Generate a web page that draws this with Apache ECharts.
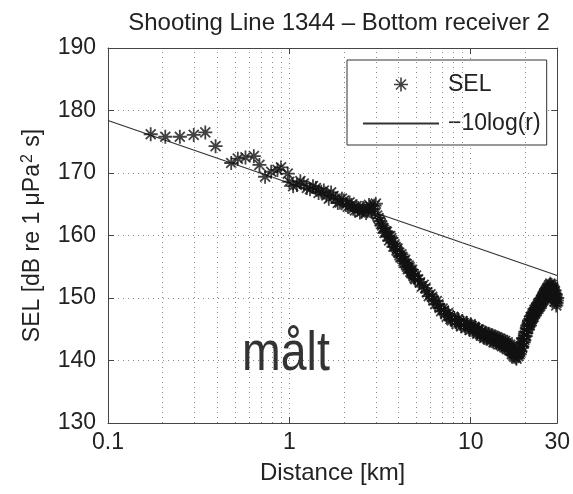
<!DOCTYPE html>
<html>
<head>
<meta charset="utf-8">
<script src="https://cdn.jsdelivr.net/npm/echarts@6/dist/echarts.min.js"></script>
<style>
html,body{margin:0;padding:0;background:#fff;}
#chart{width:573px;height:494px;}
</style>
</head>
<body>
<div id="chart"></div>
<script>
// ---- data ----
// shots, first pass
const distanceKm = [
  0.172,0.207,0.249,0.297,0.344,0.392,0.478,0.52,0.573,0.637,0.684,0.735,0.794,0.86,0.9,0.98,
  1.0,1.1,1.2,1.3,1.4,1.5,1.6,1.7,1.8,1.9,2.0,2.1,2.2,2.3,2.4,2.5,2.6,2.7,2.8,2.9,3.0,3.05,
  3.1,3.2,3.3,3.4,3.5,3.6,3.7,3.8,3.9,4.0,4.1,4.2,4.3,4.4,4.5,4.6,4.7,4.8,4.9,5.0,
  5.25,5.5,5.75,6.0,6.25,6.5,6.75,7.0,7.25,7.5,7.75,8.0,8.25,8.5,8.75,9.0,9.25,9.5,9.75,10.0,
  10.25,10.5,10.75,11.0,11.25,11.5,11.75,12.0,12.25,12.5,12.75,13.0,13.25,13.5,13.75,14.0,
  14.25,14.5,14.75,15.0,15.25,15.5,15.75,16.0,16.25,16.5,16.75,17.0,17.25,17.5,17.75,18.0,
  18.25,18.5,18.75,19.0,19.25,19.5,19.75,20.0,20.25,20.5,20.75,21.0,21.25,21.5,21.75,22.0,
  22.25,22.5,22.75,23.0,23.25,23.5,23.75,24.0,24.25,24.5,24.75,25.0,25.25,25.5,25.75,26.0,
  26.25,26.5,26.75,27.0,27.25,27.5,27.75,28.0,28.25,28.5,28.75,29.0,29.25,29.5,29.75,30.0
];
const selDb = [
  176.2,175.8,175.8,176.1,176.5,174.3,171.6,172.3,172.5,172.7,171.3,169.4,170.2,170.5,170.9,169.9,
  168.6,168.1,168.3,167.4,167.6,167.0,166.4,166.9,165.9,165.3,165.6,164.6,164.9,164.0,164.4,163.8,164.3,163.9,164.6,164.2,165.1,163.2,
  162.8,161.9,161.2,160.7,159.8,159.9,158.9,158.6,157.6,157.3,156.5,156.6,155.6,155.5,154.6,154.9,154.0,153.9,153.2,153.6,
  152.5,152.1,150.9,150.6,149.6,149.5,148.4,148.3,147.4,147.6,146.6,147.0,146.2,146.6,145.9,146.3,145.6,146.0,145.3,145.8,
  145.0,145.4,144.6,145.0,144.3,144.7,143.9,144.5,143.8,144.3,143.5,144.1,143.4,143.9,143.1,143.7,
  143.0,143.5,142.6,143.3,142.5,143.1,142.2,142.9,142.0,142.5,141.5,142.0,140.9,141.5,140.5,141.2,
  140.7,141.8,141.4,142.8,142.2,143.6,143.3,144.6,144.4,145.6,145.4,146.4,146.0,147.0,146.7,147.6,
  147.2,148.1,147.8,148.5,148.2,149.0,148.6,149.3,149.0,149.8,149.4,150.3,149.9,150.8,150.3,151.2,
  150.7,151.6,151.0,152.0,151.3,152.3,151.5,152.1,151.2,151.7,150.6,151.2,149.8,150.5,149.2,150.0
];
// shots in between (second pass)
const distanceKm2 = [
  1.05,1.15,1.25,1.35,1.45,1.55,1.65,1.75,1.85,1.95,2.05,2.15,2.25,2.35,2.45,2.55,2.65,2.75,2.85,2.95,
  3.15,3.25,3.35,3.45,3.55,3.65,3.75,3.85,3.95,4.05,4.15,4.25,4.35,4.45,4.55,4.65,4.75,4.85,4.95,
  5.125,5.375,5.625,5.875,6.125,6.375,6.625,6.875,7.125,7.375,7.625,7.875,8.125,8.375,8.625,8.875,9.125,9.375,9.625,9.875,
  10.125,10.375,10.625,10.875,11.125,11.375,11.625,11.875,12.125,12.375,12.625,12.875,13.125,13.375,13.625,13.875,
  14.125,14.375,14.625,14.875,15.125,15.375,15.625,15.875,16.125,16.375,16.625,16.875,17.125,17.375,17.625,17.875,
  18.125,18.375,18.625,18.875,19.125,19.375,19.625,19.875,20.125,20.375,20.625,20.875,21.125,21.375,21.625,21.875,
  22.125,22.375,22.625,22.875,23.125,23.375,23.625,23.875,24.125,24.375,24.625,24.875,25.125,25.375,25.625,25.875,
  26.125,26.375,26.625,26.875,27.125,27.375,27.625,27.875,28.125,28.375,28.625,28.875,29.125,29.375,29.625,29.875
];
const selDb2 = [
  167.9,168.7,167.6,167.9,166.8,167.2,165.9,166.3,165.2,165.9,164.9,165.3,164.3,164.7,163.7,164.4,163.6,164.9,163.8,164.8,
  162.3,161.6,160.4,160.6,159.2,159.6,158.2,158.2,157.9,156.8,157.0,155.9,156.1,155.0,155.2,154.2,154.5,153.5,153.0,
  153.0,151.8,151.6,150.3,150.2,149.0,149.0,147.9,148.0,147.0,147.1,146.4,146.8,145.8,146.3,145.5,146.0,145.2,145.7,144.9,
  145.5,144.7,145.2,144.3,144.9,144.0,144.5,143.6,144.2,143.5,144.0,143.2,143.8,142.9,143.6,142.8,
  143.4,142.6,143.2,142.3,142.9,142.1,142.7,141.8,142.6,141.6,142.2,141.0,141.6,140.6,141.3,140.3,
  141.0,141.2,141.0,142.2,142.0,143.0,142.9,144.0,143.9,145.1,145.0,146.0,145.6,146.6,146.3,147.2,
  146.9,147.7,147.5,148.3,147.9,148.7,148.3,149.2,148.7,149.6,149.1,150.0,149.6,150.6,150.0,151.0,
  150.4,151.4,150.6,151.7,151.0,152.1,151.2,151.8,150.9,151.4,150.2,150.8,149.4,150.1,148.8,149.6
];
// reference line -10log(r): end points
const modelDistanceKm = [0.1, 30];
const modelSelDb = [178.4, 153.6];
// axis ticks
const xMajorTicks = [0.1, 1, 10, 30];
const xMinorGrid = [0.2,0.3,0.4,0.5,0.6,0.7,0.8,0.9,2,3,4,5,6,7,8,9,20];
const yTicks = [130,140,150,160,170,180,190];
const seriesNames = ['SEL', '\u221210log(r)'];
const titleText = 'Shooting Line 1344 \u2013 Bottom receiver 2';
const annotationText = 'målt';

const FONT = '"Liberation Sans", Arial, Helvetica, sans-serif';
const ASTERISK = 'path://M0,5L10,5M5,0L5,10M1.46,1.46L8.54,8.54M8.54,1.46L1.46,8.54';
const GRID_DOT = {color: '#888', width: 1, type: [1, 4]};

const chart = echarts.init(document.getElementById('chart'), null, {renderer: 'canvas'});

const selData = distanceKm.map((d, i) => [d, selDb[i]])
  .concat(distanceKm2.map((d, i) => [d, selDb2[i]]));
const modelData = modelDistanceKm.map((d, i) => [d, modelSelDb[i]]);

const option = {
  animation: false,
  backgroundColor: '#fff',
  textStyle: {fontFamily: FONT},
  title: {
    text: titleText,
    left: 334, top: 6, textAlign: 'center',
    textStyle: {fontFamily: FONT, fontSize: 24, fontWeight: 'normal', color: '#222'}
  },
  grid: {left: 108, right: 14, top: 48, bottom: 71, show: false},
  legend: {
    orient: 'vertical',
    left: 347, top: 60,
    padding: [13, 6, 10, 15],
    itemWidth: 76, itemHeight: 14, itemGap: 16,
    borderColor: '#333', borderWidth: 1,
    backgroundColor: '#fff',
    selectedMode: false,
    textStyle: {fontFamily: FONT, fontSize: 23, color: '#222', padding: [0, 0, 0, 4]},
    data: [
      {name: seriesNames[0], icon: ASTERISK, itemStyle: {color: 'transparent', borderColor: '#111', borderWidth: 1.6}},
      {name: seriesNames[1], itemStyle: {opacity: 0}}
    ]
  },
  xAxis: [{
    type: 'log', logBase: 10, min: xMajorTicks[0], max: xMajorTicks[xMajorTicks.length - 1],
    name: 'Distance [km]', nameLocation: 'middle', nameGap: 38,
    nameTextStyle: {fontFamily: FONT, fontSize: 24, color: '#222'},
    axisLine: {show: true, onZero: false, lineStyle: {color: '#444', width: 1}},
    axisTick: {show: true, inside: true, length: 6, lineStyle: {color: '#444'}},
    axisLabel: {fontFamily: FONT, fontSize: 23, color: '#222', margin: 8,
      formatter: v => String(+v.toPrecision(3))},
    splitLine: {show: true, lineStyle: GRID_DOT}
  }, {
    type: 'log', logBase: 10, min: xMajorTicks[0], max: xMajorTicks[xMajorTicks.length - 1],
    position: 'top',
    axisLine: {show: true, onZero: false, lineStyle: {color: '#444', width: 1}},
    axisTick: {show: true, inside: true, length: 6, lineStyle: {color: '#444'}},
    axisLabel: {show: false}, splitLine: {show: false}
  }],
  yAxis: [{
    type: 'value', min: yTicks[0], max: yTicks[yTicks.length - 1], interval: 10,
    name: '{a|SEL [dB re 1 \u03bcPa}{s|2}{a| s]}', nameLocation: 'middle', nameGap: 62,
    nameTextStyle: {fontFamily: FONT, fontSize: 23, color: '#222',
      rich: {a: {fontFamily: FONT, fontSize: 23, color: '#222'},
             s: {fontFamily: FONT, fontSize: 16, color: '#222', verticalAlign: 'top', padding: [0, 1, 10, 1]}}},
    axisLine: {show: true, onZero: false, lineStyle: {color: '#444', width: 1}},
    axisTick: {show: true, inside: true, length: 6, lineStyle: {color: '#444'}},
    axisLabel: {fontFamily: FONT, fontSize: 23, color: '#222', margin: 12},
    splitLine: {show: true, lineStyle: GRID_DOT}
  }, {
    type: 'value', min: yTicks[0], max: yTicks[yTicks.length - 1], interval: 10,
    position: 'right',
    axisLine: {show: true, onZero: false, lineStyle: {color: '#444', width: 1}},
    axisTick: {show: true, inside: true, length: 6, lineStyle: {color: '#444'}},
    axisLabel: {show: false}, splitLine: {show: false}
  }],
  series: [
    {
      name: 'minor-grid', type: 'line', data: [], silent: true,
      markLine: {
        silent: true, symbol: 'none', label: {show: false},
        lineStyle: GRID_DOT, animation: false,
        data: xMinorGrid.map(v => ({xAxis: v}))
      }
    },
    {
      name: seriesNames[1], type: 'line', data: modelData,
      showSymbol: false, symbol: 'none',
      lineStyle: {color: '#333', width: 1.3},
      itemStyle: {color: '#333'},
      z: 3
    },
    {
      name: seriesNames[0], type: 'scatter', data: selData,
      symbol: ASTERISK, symbolSize: 14,
      itemStyle: {color: 'transparent', borderColor: '#111', borderWidth: 1.8},
      z: 4
    }
  ],
  graphic: [{
    type: 'text', left: 242, top: 327, z: 10, scaleX: 0.83,
    style: {text: annotationText, font: '56px "Liberation Sans", Arial, sans-serif', fill: '#333'}
  }]
};
chart.setOption(option);
</script>
</body>
</html>
